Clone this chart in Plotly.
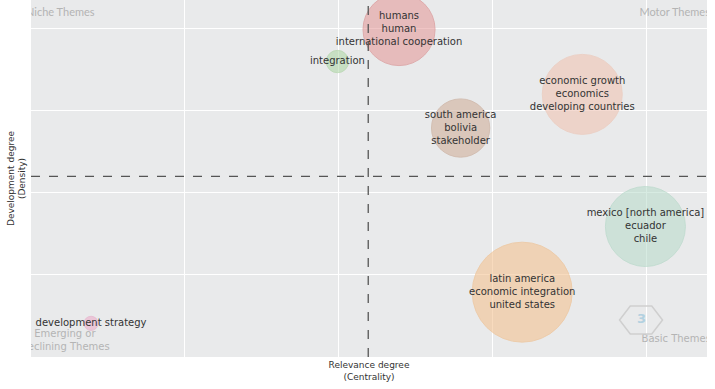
import plotly.graph_objects as go
import math

# Thematic map data (centrality, density, occurrences)
labels = [
    "humans<br>human<br>international cooperation",
    "integration",
    "south america<br>bolivia<br>stakeholder",
    "economic growth<br>economics<br>developing countries",
    "mexico [north america]<br>ecuador<br>chile",
    "latin america<br>economic integration<br>united states",
    "development strategy",
]
centrality = [2.39, 1.99, 2.79, 3.58, 3.99, 3.19, 0.39]
density = [3.99, 3.60, 2.79, 3.20, 1.59, 0.79, 0.41]
occurrences = [52, 5, 34, 64, 64, 100, 2]
fill_colors = [
    "rgba(228,146,146,0.75)",
    "rgba(170,214,160,0.75)",
    "rgba(208,176,156,0.85)",
    "rgba(240,196,180,0.85)",
    "rgba(180,218,200,0.75)",
    "rgba(244,192,140,0.8)",
    "rgba(236,170,200,0.8)",
]
line_colors = [
    "rgba(215,140,140,0.9)",
    "rgba(170,210,160,0.9)",
    "rgba(200,168,150,0.9)",
    "rgba(236,196,180,0.9)",
    "rgba(176,214,196,0.9)",
    "rgba(238,190,140,0.9)",
    "rgba(230,170,200,0.9)",
]
x_threshold = 2.19
y_threshold = 2.20

quad_text = ["Niche Themes", "Motor Themes", "Emerging or<br>Declining Themes", "Basic Themes"]
quad_x = [0.19, 4.18, 0.22, 4.19]
quad_y = [4.19, 4.19, 0.20, 0.21]
quad_fonts = ["Lato", "Lato", "DejaVu Sans", "DejaVu Sans"]
quad_sizes = [11, 11, 10, 10]

x_range = [0, 4.39]
y_range = [0, 4.35]

fig = go.Figure()

for t, qx, qy, ff, fs in zip(quad_text, quad_x, quad_y, quad_fonts, quad_sizes):
    fig.add_trace(go.Scatter(
        x=[qx], y=[qy], mode="text", text=[t],
        textposition="middle center", cliponaxis=True,
        textfont=dict(family=ff, size=fs, color="#b4b4b4"), hoverinfo="skip", showlegend=False,
    ))

fig.add_trace(go.Scatter(
    x=centrality, y=density, mode="markers",
    marker=dict(size=occurrences, sizemode="area", sizeref=0.02,
                color=fill_colors, line=dict(color=line_colors, width=1)),
    cliponaxis=True, hoverinfo="skip", showlegend=False,
))
fig.add_trace(go.Scatter(
    x=centrality, y=density, mode="text", text=labels,
    textposition="middle center", cliponaxis=False,
    textfont=dict(family="DejaVu Sans", size=10, color="#333333"),
    hoverinfo="skip", showlegend=False,
))

fig.add_shape(type="line", x0=x_threshold, x1=x_threshold, y0=0, y1=1, xref="x", yref="paper",
              line=dict(color="#555555", width=1.3, dash="dash"))
fig.add_shape(type="line", x0=0, x1=1, y0=y_threshold, y1=y_threshold, xref="paper", yref="y",
              line=dict(color="#555555", width=1.3, dash="dash"))

# logo hexagon (paper coordinates derived from plot box 31..707 x 0..357)
hx, hy, hr = 641, 320, 21.5
pts = [(hx + hr * math.cos(math.radians(a)), hy + hr * 0.75 * math.sin(math.radians(a))) for a in range(0, 360, 60)]
path = "M " + " L ".join(f"{(px-31)/676:.4f},{1-(py)/357:.4f}" for px, py in pts) + " Z"
fig.add_shape(type="path", xref="paper", yref="paper", path=path,
              line=dict(color="#cfcfcf", width=1.5), fillcolor="rgba(0,0,0,0)")
fig.add_annotation(xref="paper", yref="paper", x=(641-31)/676, y=1-318/357, text="<b>3</b>",
                   xanchor="center", yanchor="middle",
                   showarrow=False, font=dict(family="DejaVu Sans", size=13, color="#b3d1e0"))

fig.update_xaxes(range=x_range, tickvals=[1, 2, 3, 4], showticklabels=False, showgrid=True,
                 gridcolor="white", gridwidth=1, zeroline=False, ticks="", automargin=False,
                 title=dict(text="Relevance degree<br>(Centrality)", standoff=4,
                            font=dict(family="DejaVu Sans", size=9, color="#333333")))
fig.update_yaxes(range=y_range, tickvals=[1, 2, 3, 4], showticklabels=False, showgrid=True,
                 gridcolor="white", gridwidth=1, zeroline=False, ticks="", automargin=False,
                 title=dict(text="Development degree<br>(Density)", standoff=2,
                            font=dict(family="DejaVu Sans", size=9, color="#333333")))

fig.update_layout(
    width=715, height=389,
    margin=dict(l=31, r=8, t=0, b=32, autoexpand=False),
    plot_bgcolor="#e9eaeb", paper_bgcolor="white",
    showlegend=False,
)

fig.write_html("out.html", config={"displayModeBar": False},
               post_script="document.body.style.margin='0';")
